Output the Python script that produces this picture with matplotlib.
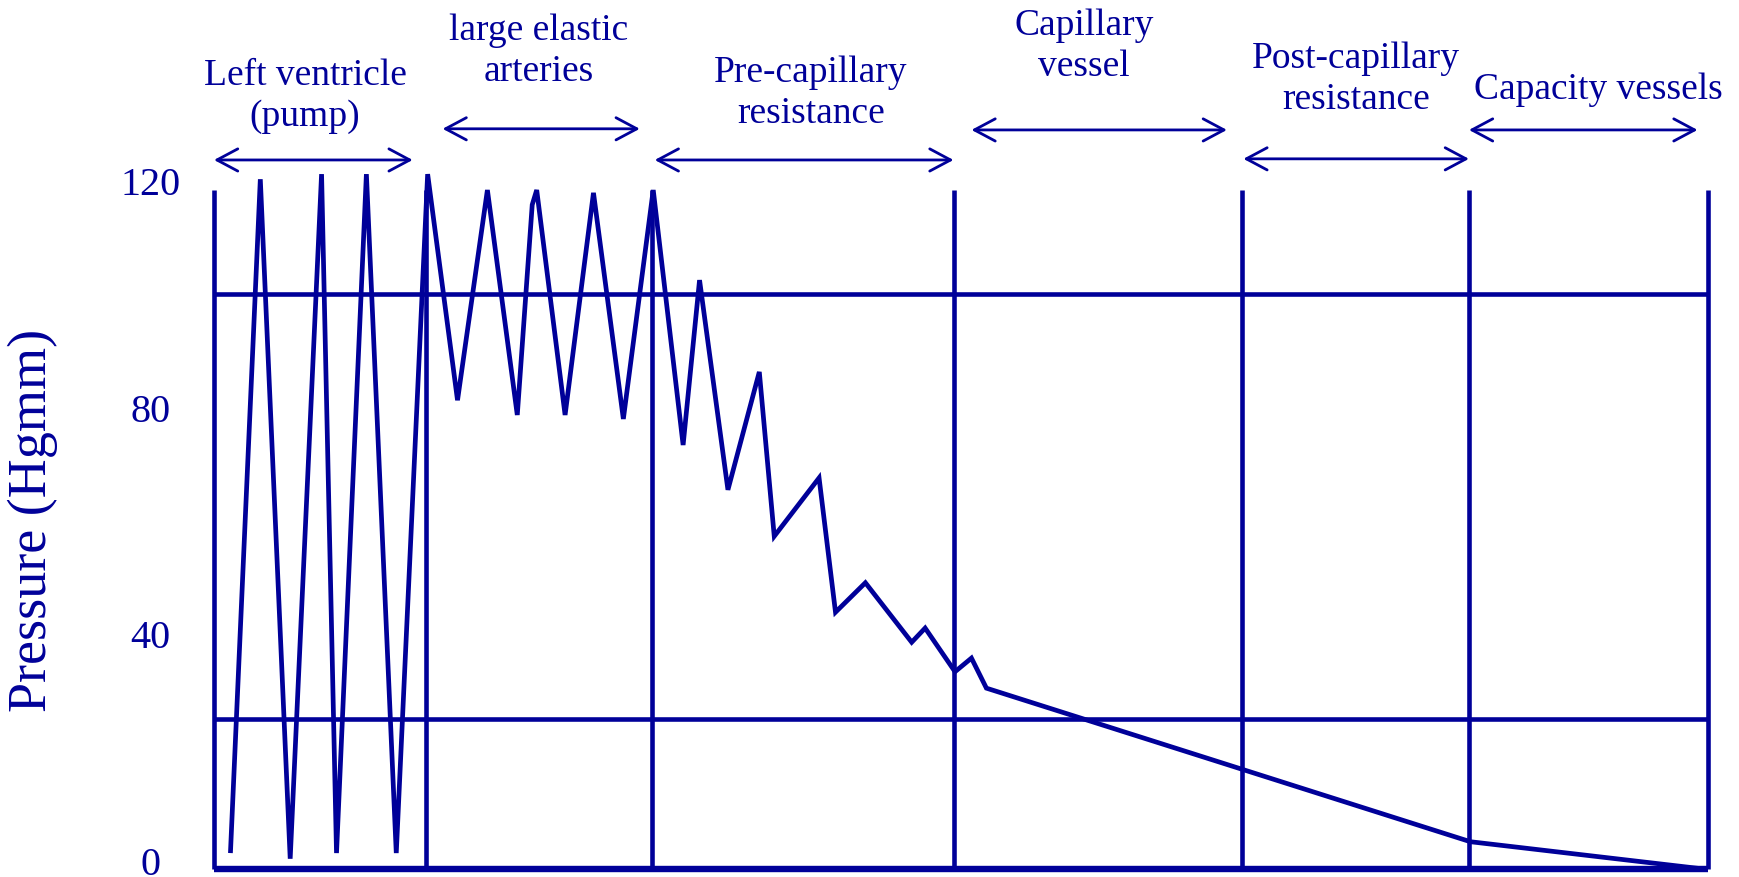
import matplotlib
matplotlib.use("Agg")
import matplotlib.pyplot as plt
from matplotlib.patches import FancyArrowPatch

# position along the vascular tree (0 = left ventricle, 100 = capacity vessels end)
pos = [1.1, 3.1, 5.1, 7.2, 8.2, 10.2, 12.2, 14.3,
       16.3, 18.3, 20.3, 21.3, 21.6, 23.5, 25.4, 27.4, 29.4,
       31.4, 32.5, 34.4, 36.5, 37.5, 40.5, 41.6, 43.6, 46.7, 47.6, 49.6, 50.7, 51.7,
       84.1, 100.0]
# pressure (mmHg) at those positions
pressure = [1.4, 120.3, 0.4, 121.2, 1.4, 121.2, 1.4, 121.2,
            81.3, 118.4, 78.7, 115.8, 118.4, 78.7, 117.9, 78.0, 118.4,
            73.4, 102.5, 65.5, 86.3, 57.3, 67.6, 43.9, 49.1, 38.6, 41.1, 33.4, 35.8, 30.5,
            3.4, -1.5]

# section boundaries and names
bounds = [0, 14.2, 29.3, 49.5, 68.8, 84.0, 100]
sections = ["Left ventricle\n(pump)", "large elastic\narteries", "Pre-capillary\nresistance",
            "Capillary\nvessel", "Post-capillary\nresistance", "Capacity vessels"]
# arrow spans (start, end) for each section
spans = [(0, 13.3), (15.3, 28.5), (29.5, 49.5), (50.7, 67.8), (68.9, 84.0), (84.0, 99.3)]

ref_levels = [100, 25]
base = -1.5
top = 118.4
yticks = [0, 40, 80, 120]

blue = "#000099"
plt.rcParams["font.family"] = ["Liberation Serif", "DejaVu Serif"]

fig = plt.figure(figsize=(17.4, 8.77), dpi=100)
ax = fig.add_axes([214 / 1740, -1 / 877, 1494 / 1740, 725.4 / 877])
ax.set_xlim(0, 100)
ax.set_ylim(-3, 125)

# grid frame
for b in bounds:
    ax.plot([b, b], [base, top], color=blue, lw=3.3, solid_capstyle="butt", clip_on=False)
for lvl in ref_levels:
    ax.plot([0, 100], [lvl, lvl], color=blue, lw=3.3, solid_capstyle="butt", clip_on=False)
ax.plot([0, 100], [base, base], color=blue, lw=4.6, solid_capstyle="butt", clip_on=False)

# pressure trace
ax.plot(pos, pressure, color=blue, lw=3.4, solid_joinstyle="miter",
        solid_capstyle="butt", clip_on=False)

# section labels and arrows
text_xy = [(6.1, 135.0), (21.75, 142.9), (39.96, 135.4), (58.23, 143.7), (76.44, 138.0), (92.64, 136.1)]
arrow_y = [123.7, 129.2, 123.7, 129.0, 123.9, 129.0]
for name, (tx, ty), (a, b), ay in zip(sections, text_xy, spans, arrow_y):
    ax.text(tx, ty, name, ha="center", va="center", fontsize=27, color=blue,
            linespacing=1.25, clip_on=False)
    arr = FancyArrowPatch((a, ay), (b, ay), arrowstyle="<->,head_length=1.5,head_width=0.8",
                          mutation_scale=10, color=blue, lw=2.0, shrinkA=0, shrinkB=0,
                          clip_on=False)
    ax.add_patch(arr)

ax.set_xticks([])
ax.set_yticks(yticks)
ax.tick_params(axis="y", length=0, pad=46, labelsize=29, labelcolor=blue)
for lab in ax.get_yticklabels():
    lab.set_horizontalalignment("center")
for s in ax.spines.values():
    s.set_visible(False)

ax.set_ylabel("Pressure (Hgmm)", fontsize=39, color=blue)
ax.yaxis.label.set_va("center")
ax.yaxis.set_label_coords(-0.1211, 0.4935)

fig.savefig("out.png", dpi=100)
